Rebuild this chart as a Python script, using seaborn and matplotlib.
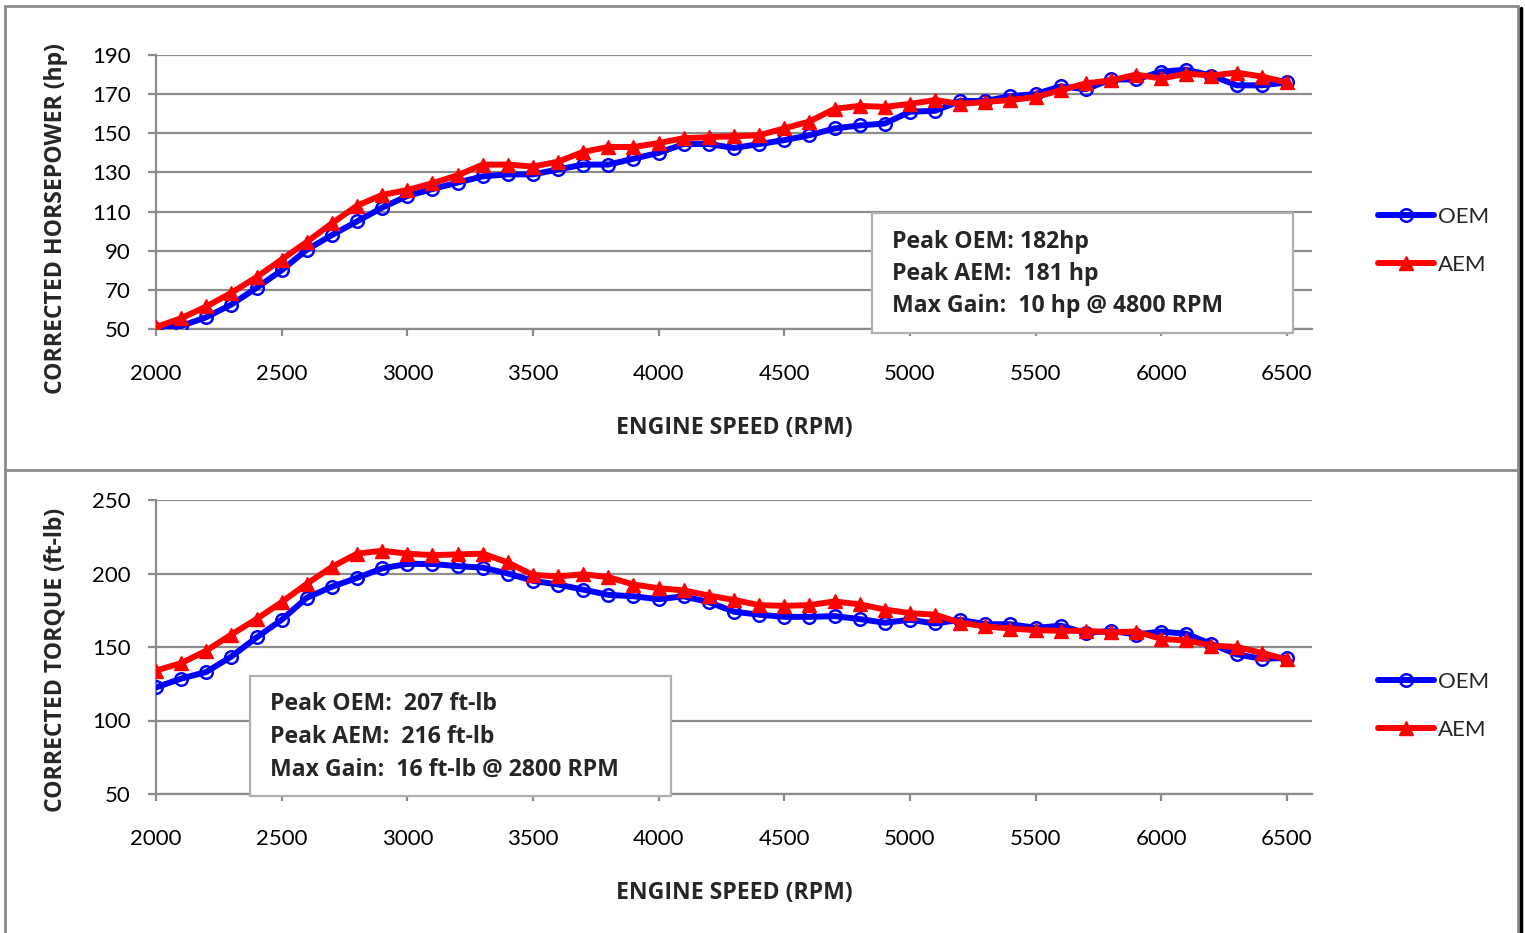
import numpy as np
import pandas as pd
import matplotlib
matplotlib.use("Agg")
import matplotlib.pyplot as plt
import seaborn as sns
from matplotlib.patches import Rectangle
from matplotlib.lines import Line2D

# ---------------- data ----------------
rpm = [2000, 2100, 2200, 2300, 2400, 2500, 2600, 2700, 2800, 2900,
       3000, 3100, 3200, 3300, 3400, 3500, 3600, 3700, 3800, 3900,
       4000, 4100, 4200, 4300, 4400, 4500, 4600, 4700, 4800, 4900,
       5000, 5100, 5200, 5300, 5400, 5500, 5600, 5700, 5800, 5900,
       6000, 6100, 6200, 6300, 6400, 6500]

hp_oem = [50, 51.5, 56, 62.5, 71, 80, 90.5, 98, 105, 112,
          118, 121.5, 124.8, 128, 129, 129, 131.5, 134, 134, 137,
          140, 144.5, 144.5, 142.5, 144.5, 146.5, 149, 152.5, 154, 155,
          161, 161.5, 166.5, 166.5, 169, 170, 174, 172.5, 177.5, 177.5,
          181.5, 182.5, 179.5, 174.5, 174.5, 176]

hp_aem = [51, 55.5, 61.5, 68.5, 76.5, 85.5, 94.5, 104, 113, 118.5,
          121, 124.5, 128.5, 134, 134, 133, 135.5, 140.5, 143, 143,
          145, 147.5, 148, 148.5, 149, 152.5, 156, 162.5, 164, 163.5,
          165, 167, 165, 166, 167, 168.5, 172, 175.5, 177, 180,
          178, 180.5, 179.5, 181, 179, 176]

tq_oem = [122.5, 128.5, 133, 143.5, 156.5, 168.5, 183.5, 191, 197, 203.5,
          206.5, 206.5, 205, 204, 200, 195, 192.5, 189, 185.5, 184.5,
          182.5, 184.5, 180.5, 174, 172, 170.5, 170.5, 171, 169, 166.5,
          168.5, 166, 168.5, 165.5, 165.5, 163, 164.5, 159.5, 161, 158.5,
          160.5, 159, 152, 145, 142, 142.5]

tq_aem = [134, 139, 147.5, 158.5, 169, 180.5, 193, 204.5, 213.5, 215.5,
          213.5, 212.5, 213, 213.5, 207.5, 199, 198, 199.5, 197.5, 192.5,
          190, 188.5, 185, 182, 178.5, 178, 178.5, 181, 179, 175.5,
          173, 172, 166.5, 164, 162.5, 161.5, 161, 161, 160, 160.5,
          155.5, 154.5, 151, 150, 146, 141.5]

series_names = ["OEM", "AEM"]
x_ticks = [2000, 2500, 3000, 3500, 4000, 4500, 5000, 5500, 6000, 6500]
hp_ticks = [50, 70, 90, 110, 130, 150, 170, 190]
tq_ticks = [50, 100, 150, 200, 250]

hp_note = ["Peak OEM: 182hp", "Peak AEM:  181 hp", "Max Gain:  10 hp @ 4800 RPM"]
tq_note = ["Peak OEM:  207 ft-lb", "Peak AEM:  216 ft-lb", "Max Gain:  16 ft-lb @ 2800 RPM"]

# ---------------- style ----------------
sns.set_theme(style="white")
plt.rcParams['font.family'] = ['Lato', 'DejaVu Sans']
BOLD_FAMILY = ['Open Sans', 'DejaVu Sans']
BOLD_SIZE = 16.6

W, H = 1525, 933
fig = plt.figure(figsize=(W / 100, H / 100), dpi=100)
fig.patch.set_facecolor("white")

GRID = "#8c8c8c"
BLUE = "#0000FF"
RED = "#FF0000"


def fx(px):
    return px / W


def fy(py):
    return 1 - py / H


def make_axes(top, bottom):
    return fig.add_axes([fx(156), fy(bottom), fx(1312) - fx(156), fy(top) - fy(bottom)])


ax1 = make_axes(55, 329)
ax2 = make_axes(500, 794)


def draw(ax, y_oem, y_aem, ylim, yticks, ylabel):
    df = pd.DataFrame({"rpm": rpm, "OEM": y_oem, "AEM": y_aem})
    sns.lineplot(data=df, x="rpm", y="OEM", ax=ax, color=BLUE, lw=4.3,
                 marker="o", markersize=9, markerfacecolor="none",
                 markeredgecolor=BLUE, markeredgewidth=1.8, label=series_names[0],
                 zorder=3)
    sns.lineplot(data=df, x="rpm", y="AEM", ax=ax, color=RED, lw=4.3,
                 marker="^", markersize=10.5, markerfacecolor=RED,
                 markeredgecolor=RED, markeredgewidth=1.0, label=series_names[1],
                 zorder=4)
    ax.set_xlim(2000, 6600)
    ax.set_ylim(*ylim)
    ax.set_xticks(x_ticks)
    ax.set_xticklabels([str(t) for t in x_ticks])
    ax.set_yticks(yticks)
    ax.set_yticklabels([str(t) for t in yticks])
    ax.yaxis.grid(True, color=GRID, lw=1.6)
    ax.xaxis.grid(False)
    ax.set_axisbelow(True)
    for s in ["top", "right"]:
        ax.spines[s].set_visible(False)
    for s in ["left", "bottom"]:
        ax.spines[s].set_color(GRID)
        ax.spines[s].set_linewidth(1.6)
    ax.tick_params(axis="y", direction="out", length=6, width=1.6, color=GRID,
                   pad=12, labelsize=16, labelcolor="black", left=True)
    ax.tick_params(axis="x", direction="out", length=5, width=1.6, color=GRID,
                   pad=20, labelsize=16, labelcolor="black", bottom=True)
    ax.set_xlabel("ENGINE SPEED (RPM)", fontsize=BOLD_SIZE, fontweight="bold",
                  family=BOLD_FAMILY, labelpad=23)
    ax.set_ylabel(ylabel, fontsize=BOLD_SIZE, fontweight="bold",
                  family=BOLD_FAMILY, labelpad=12)
    ax.get_legend().remove()


draw(ax1, hp_oem, hp_aem, (50, 190), hp_ticks, "CORRECTED HORSEPOWER (hp)")
draw(ax2, tq_oem, tq_aem, (50, 250), tq_ticks, "CORRECTED TORQUE (ft-lb)")

axw = fx(1312) - fx(156)
ax1.yaxis.set_label_coords(fx(68 - 156) / axw, (329 - 218.5) / 274)
ax2.yaxis.set_label_coords(fx(68 - 156) / axw, (794 - 660) / 294)

# legends
for ax, ytop in [(ax1, 207), (ax2, 672)]:
    h, l = ax.get_legend_handles_labels()
    fig.legend(h, l, loc="upper left", bbox_to_anchor=(fx(1378), fy(ytop)),
               bbox_transform=fig.transFigure, frameon=False, fontsize=16,
               handlelength=2.5, handletextpad=0.2, labelspacing=1.24,
               borderpad=0, borderaxespad=0, numpoints=1)

# annotation boxes
def note(x0, y0, x1, y1, lines):
    fig.add_artist(Rectangle((fx(x0), fy(y1)), fx(x1) - fx(x0), fy(y0) - fy(y1),
                             transform=fig.transFigure, facecolor="white",
                             edgecolor="#b0b0b0", lw=1.6, zorder=5))
    for i, t in enumerate(lines):
        fig.text(fx(x0 + 20), fy(y0 + 28.5 + 32.5 * i), t, fontsize=BOLD_SIZE,
                 fontweight="bold", family=BOLD_FAMILY, va="center", ha="left",
                 zorder=6)


note(872, 213, 1293, 333, hp_note)
note(250, 676, 671, 796, tq_note)

# outer frame
def fline(xs, ys, color="#8c8c8c", lw=2.0):
    fig.add_artist(Line2D([fx(x) for x in xs], [fy(y) for y in ys],
                          transform=fig.transFigure, color=color, lw=lw))


fline([5, 1518], [6, 6])
fline([5, 5], [6, 933])
fline([5, 1518], [470, 470])
fline([1518, 1518], [6, 933])
fline([1521, 1521], [8, 933], color="black", lw=2.5)

fig.savefig("out.png", dpi=100, facecolor="white")
